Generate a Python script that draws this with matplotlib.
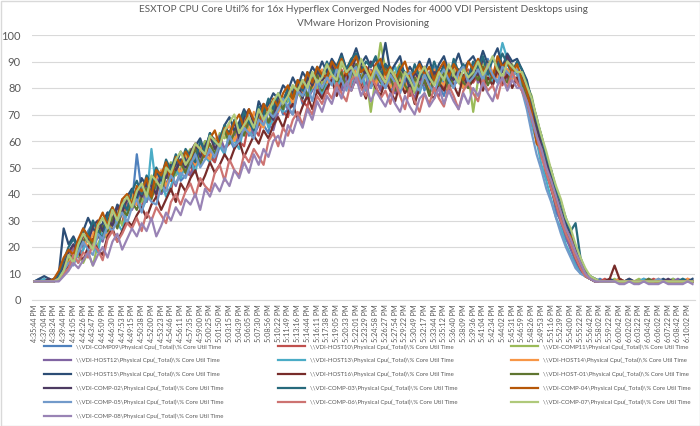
import matplotlib
matplotlib.use('Agg')
import matplotlib.pyplot as plt
from matplotlib.patches import Rectangle
import numpy as np

plt.rcParams['font.family'] = ['Lato', 'DejaVu Sans']

title = ('ESXTOP CPU Core Util% for 16x Hyperflex Converged Nodes for 4000 VDI Persistent Desktops using\n'
         'VMware Horizon Provisioning')

time_labels = [
    '4:35:44 PM', '4:37:04 PM', '4:38:24 PM', '4:39:44 PM', '4:41:05 PM', '4:42:26 PM', '4:43:47 PM',
    '4:45:09 PM', '4:46:30 PM', '4:47:53 PM', '4:49:15 PM', '4:50:38 PM', '4:52:00 PM', '4:53:23 PM',
    '4:54:46 PM', '4:56:11 PM', '4:57:35 PM', '4:59:00 PM', '5:00:25 PM', '5:01:50 PM', '5:03:15 PM',
    '5:04:39 PM', '5:06:05 PM', '5:07:30 PM', '5:08:56 PM', '5:10:22 PM', '5:11:49 PM', '5:13:16 PM',
    '5:14:44 PM', '5:16:11 PM', '5:17:38 PM', '5:19:05 PM', '5:20:33 PM', '5:22:01 PM', '5:23:29 PM',
    '5:24:58 PM', '5:26:27 PM', '5:27:54 PM', '5:29:22 PM', '5:30:49 PM', '5:32:17 PM', '5:33:44 PM',
    '5:35:12 PM', '5:36:40 PM', '5:38:09 PM', '5:39:36 PM', '5:41:04 PM', '5:42:34 PM', '5:44:02 PM',
    '5:45:31 PM', '5:46:59 PM', '5:48:26 PM', '5:49:53 PM', '5:51:16 PM', '5:52:39 PM', '5:54:00 PM',
    '5:55:22 PM', '5:56:42 PM', '5:58:02 PM', '5:59:22 PM', '6:00:42 PM', '6:02:02 PM', '6:03:22 PM',
    '6:04:42 PM', '6:06:02 PM', '6:07:22 PM', '6:08:42 PM', '6:10:02 PM',
]

hosts = ['VDI-COMP09', 'VDI-HOST10', 'VDI-COMP11', 'VDI-HOST12', 'VDI-HOST13', 'VDI-HOST14',
         'VDI-HOST15', 'VDI-HOST16', 'VDI-HOST-01', 'VDI-COMP-02', 'VDI-COMP-03', 'VDI-COMP-04',
         'VDI-COMP-05', 'VDI-COMP-06', 'VDI-COMP-07', 'VDI-COMP-08']

colors = ['#4F81BD', '#C0504D', '#9BBB59', '#8064A2', '#4BACC6', '#F79646',
          '#2C4D75', '#772C2A', '#5F7530', '#4D3B62', '#276A7C', '#B65708',
          '#729ACA', '#CD7371', '#AFC97A', '#9983B5']

# % core util, two samples per labelled timestamp (136 samples)
comp09 = [7, 8, 7, 7, 8, 9, 12, 18, 21, 17, 19, 26, 29, 24, 27, 33, 28, 31, 38, 34,
          36, 55, 41, 37, 44, 48, 40, 43, 49, 52, 45, 47, 55, 51, 53, 60, 56, 52, 58, 64,
          61, 57, 63, 69, 62, 64, 71, 66, 63, 73, 75, 70, 72, 79, 81, 74, 77, 84, 80, 76,
          83, 88, 81, 79, 86, 90, 84, 82, 87, 80, 84, 90, 86, 80, 78, 85, 83, 77, 82, 86,
          79, 84, 88, 81, 77, 83, 87, 85, 80, 84, 89, 83, 86, 91, 85, 82, 88, 90, 84, 87,
          82, 78, 70, 61, 57, 46, 44, 33, 30, 23, 20, 14, 11, 9, 8,
          7, 8, 7, 7, 7, 8, 7, 7, 7, 7, 8, 7, 7, 7, 7, 7, 8, 7, 7, 7, 7]
host10 = [7, 7, 7, 8, 7, 8, 11, 15, 20, 16, 24, 19, 22, 28, 25, 27, 34, 30, 29, 37,
          40, 36, 35, 43, 45, 39, 47, 42, 41, 50, 53, 48, 47, 55, 51, 58, 54, 52, 61, 57,
          59, 64, 60, 58, 67, 65, 62, 70, 68, 66, 74, 71, 69, 77, 80, 75, 73, 82, 79, 83,
          78, 85, 81, 87, 80, 84, 89, 83, 79, 86, 82, 80, 87, 84, 79, 85, 81, 77, 84, 80,
          86, 78, 82, 85, 80, 79, 86, 83, 81, 87, 82, 85, 80, 88, 84, 86, 81, 87, 85, 83,
          80, 77, 72, 63, 55, 51, 42, 37, 31, 27, 22, 17, 12, 9, 8,
          7, 7, 8, 7, 7, 7, 7, 8, 7, 7, 7, 7, 8, 7, 7, 7, 7, 7, 7, 8, 7]
comp11 = [7, 7, 7, 7, 7, 8, 10, 12, 15, 17, 14, 18, 13, 21, 25, 23, 29, 33, 28, 34,
          38, 42, 37, 40, 46, 43, 41, 48, 52, 47, 50, 54, 57, 52, 55, 60, 58, 56, 63, 61,
          64, 60, 67, 69, 64, 66, 72, 70, 67, 74, 77, 73, 75, 81, 78, 76, 83, 86, 80, 82,
          87, 84, 82, 89, 86, 83, 88, 90, 85, 71, 84, 97, 87, 82, 86, 89, 80, 83, 78, 86,
          83, 79, 86, 81, 84, 78, 87, 82, 80, 85, 71, 83, 89, 86, 82, 90, 87, 84, 89, 85,
          86, 81, 77, 68, 62, 54, 49, 41, 37, 29, 26, 20, 15, 11, 9,
          8, 7, 7, 7, 8, 7, 7, 7, 7, 8, 7, 7, 7, 7, 7, 7, 8, 7, 7, 7, 7]
host12 = [7, 7, 7, 7, 8, 9, 13, 16, 19, 22, 20, 23, 27, 24, 22, 29, 31, 28, 33, 37,
          34, 38, 41, 37, 42, 46, 40, 44, 47, 43, 49, 52, 47, 51, 56, 54, 53, 59, 62, 57,
          60, 63, 59, 65, 68, 62, 66, 70, 67, 64, 71, 75, 72, 70, 78, 80, 76, 79, 83, 77,
          80, 84, 86, 79, 83, 88, 82, 85, 81, 87, 84, 79, 86, 83, 78, 82, 85, 80, 76, 83,
          81, 86, 79, 77, 84, 87, 81, 83, 80, 85, 88, 82, 84, 87, 81, 86, 89, 83, 85, 82,
          79, 74, 69, 62, 56, 48, 42, 35, 29, 24, 19, 15, 11, 9, 8,
          7, 7, 7, 7, 7, 8, 7, 7, 7, 7, 7, 8, 7, 7, 7, 7, 7, 8, 7, 7, 7]
host13 = [7, 7, 8, 7, 7, 8, 10, 13, 17, 14, 19, 24, 21, 18, 27, 25, 31, 29, 26, 33,
          36, 40, 34, 38, 57, 42, 45, 39, 43, 49, 46, 51, 53, 48, 57, 54, 52, 60, 58, 55,
          63, 60, 57, 66, 64, 61, 69, 72, 65, 68, 74, 71, 77, 73, 79, 82, 76, 80, 84, 78,
          82, 86, 80, 84, 88, 81, 85, 87, 79, 84, 87, 82, 80, 85, 88, 83, 79, 84, 81, 78,
          84, 81, 87, 79, 85, 83, 80, 86, 88, 82, 85, 89, 83, 87, 82, 88, 97, 91, 86, 85,
          81, 75, 66, 60, 51, 45, 38, 31, 27, 21, 17, 13, 10, 9, 8,
          7, 7, 7, 7, 7, 7, 7, 7, 7, 7, 8, 7, 7, 7, 7, 7, 7, 7, 8, 7, 7]
host14 = [7, 7, 7, 7, 7, 9, 12, 15, 18, 20, 23, 20, 25, 29, 26, 24, 31, 35, 32, 38,
          41, 36, 39, 44, 40, 46, 49, 43, 47, 51, 48, 53, 56, 51, 58, 55, 53, 61, 59, 63,
          66, 60, 64, 68, 63, 71, 67, 65, 73, 75, 71, 76, 79, 74, 81, 78, 84, 80, 83, 87,
          82, 85, 89, 84, 87, 91, 85, 83, 88, 86, 81, 87, 84, 80, 85, 83, 79, 86, 82, 88,
          84, 80, 87, 83, 81, 86, 89, 84, 80, 86, 83, 88, 85, 90, 86, 84, 89, 87, 83, 88,
          85, 78, 74, 64, 60, 50, 45, 37, 32, 27, 22, 16, 13, 10, 8,
          7, 7, 7, 7, 7, 8, 7, 7, 7, 7, 7, 7, 7, 8, 7, 7, 7, 7, 7, 8, 7]
host15 = [7, 8, 9, 8, 7, 10, 27, 21, 24, 20, 26, 31, 27, 25, 29, 33, 30, 36, 34, 39,
          42, 38, 46, 43, 41, 49, 45, 52, 48, 51, 56, 53, 50, 58, 61, 55, 63, 60, 58, 66,
          69, 64, 67, 72, 68, 65, 75, 71, 74, 78, 76, 81, 79, 84, 80, 86, 83, 88, 85, 90,
          86, 91, 88, 93, 87, 90, 95, 89, 92, 88, 91, 87, 97, 86, 89, 92, 84, 88, 85, 90,
          86, 91, 84, 89, 92, 86, 88, 93, 87, 90, 92, 88, 94, 89, 91, 95, 88, 93, 90, 91,
          87, 83, 75, 69, 61, 54, 47, 40, 34, 29, 25, 19, 14, 10, 8,
          8, 7, 7, 8, 7, 7, 7, 8, 7, 7, 7, 7, 7, 7, 8, 7, 7, 7, 7, 7, 8]
host16 = [7, 7, 7, 7, 7, 8, 11, 13, 16, 18, 15, 20, 23, 19, 17, 24, 27, 22, 26, 30,
          28, 32, 35, 31, 36, 39, 34, 38, 42, 37, 44, 41, 46, 49, 43, 47, 52, 48, 51, 55,
          52, 57, 60, 54, 58, 62, 59, 64, 61, 66, 69, 65, 71, 74, 68, 73, 77, 72, 79, 76,
          80, 83, 77, 82, 86, 79, 84, 81, 76, 85, 80, 77, 83, 79, 75, 82, 78, 81, 74, 80,
          83, 78, 76, 82, 79, 84, 81, 77, 85, 80, 83, 86, 79, 84, 81, 87, 82, 85, 80, 84,
          81, 74, 69, 62, 55, 49, 42, 36, 31, 26, 21, 16, 12, 9, 8,
          7, 7, 7, 8, 13, 8, 7, 7, 7, 7, 7, 7, 7, 7, 7, 7, 7, 7, 7, 7, 7]
host01 = [7, 7, 7, 7, 7, 9, 12, 16, 17, 19, 22, 25, 20, 24, 28, 26, 31, 27, 34, 32,
          37, 34, 39, 42, 38, 44, 41, 47, 45, 49, 52, 48, 54, 57, 51, 56, 59, 55, 61, 64,
          59, 63, 66, 62, 68, 65, 70, 73, 67, 71, 75, 72, 78, 76, 80, 83, 77, 81, 85, 79,
          84, 88, 82, 86, 80, 85, 89, 83, 87, 81, 85, 82, 88, 84, 79, 86, 81, 78, 84, 80,
          83, 77, 85, 81, 86, 79, 84, 87, 82, 80, 86, 83, 88, 81, 85, 89, 84, 82, 87, 86,
          82, 76, 71, 63, 56, 50, 43, 36, 32, 25, 22, 16, 13, 9, 8,
          7, 7, 7, 7, 7, 7, 7, 7, 7, 7, 7, 8, 7, 7, 7, 7, 7, 7, 7, 7, 7]
comp02 = [7, 7, 7, 8, 7, 9, 13, 18, 21, 18, 25, 22, 28, 30, 26, 31, 28, 35, 33, 38,
          36, 42, 39, 45, 43, 40, 48, 46, 51, 49, 53, 50, 56, 59, 54, 58, 62, 57, 60, 65,
          63, 67, 61, 69, 72, 66, 70, 74, 71, 68, 77, 74, 80, 78, 82, 76, 84, 81, 87, 83,
          85, 89, 84, 91, 87, 86, 92, 88, 85, 90, 87, 84, 89, 86, 82, 88, 85, 80, 86, 83,
          88, 82, 86, 84, 89, 85, 83, 87, 84, 81, 88, 85, 91, 87, 84, 90, 86, 92, 88, 86,
          84, 79, 72, 66, 58, 52, 45, 39, 33, 27, 23, 18, 13, 10, 8,
          7, 7, 7, 7, 7, 7, 7, 7, 7, 7, 7, 7, 7, 7, 7, 8, 7, 7, 7, 7, 7]
comp03 = [7, 7, 7, 7, 8, 9, 15, 20, 23, 19, 27, 24, 30, 26, 23, 32, 35, 31, 37, 34,
          41, 45, 40, 47, 44, 50, 46, 53, 49, 55, 51, 57, 54, 52, 60, 56, 63, 59, 61, 66,
          62, 68, 65, 71, 67, 64, 73, 70, 76, 72, 78, 75, 80, 77, 83, 79, 86, 82, 88, 84,
          90, 85, 88, 92, 87, 91, 93, 86, 90, 88, 92, 85, 89, 87, 83, 88, 86, 82, 89, 84,
          87, 83, 90, 85, 88, 82, 91, 86, 89, 84, 90, 87, 92, 85, 91, 88, 93, 89, 86, 90,
          87, 82, 76, 68, 62, 54, 49, 42, 37, 31, 26, 29, 16, 11, 9,
          8, 7, 7, 7, 7, 7, 7, 7, 7, 7, 7, 7, 7, 7, 7, 7, 7, 7, 8, 7, 7]
comp04 = [7, 7, 7, 7, 8, 11, 16, 19, 17, 23, 27, 24, 22, 29, 33, 28, 35, 31, 38, 40,
          36, 43, 41, 46, 39, 49, 47, 52, 45, 54, 51, 56, 53, 59, 57, 54, 61, 64, 58, 65,
          62, 67, 70, 65, 72, 68, 66, 74, 71, 76, 73, 78, 81, 76, 83, 80, 86, 82, 88, 85,
          84, 90, 87, 91, 85, 89, 92, 86, 88, 84, 89, 91, 85, 88, 83, 87, 90, 84, 86, 89,
          85, 88, 83, 87, 90, 84, 89, 86, 83, 90, 87, 91, 86, 89, 84, 92, 88, 90, 86, 89,
          83, 79, 71, 59, 57, 48, 45, 37, 33, 26, 24, 17, 14, 10, 8,
          7, 7, 7, 7, 7, 7, 7, 7, 7, 7, 7, 7, 7, 7, 7, 7, 7, 7, 7, 7, 7]
comp05 = [7, 7, 7, 7, 7, 8, 11, 14, 13, 18, 22, 19, 17, 25, 23, 28, 26, 30, 33, 29,
          35, 38, 33, 40, 37, 36, 43, 41, 47, 44, 48, 46, 51, 55, 50, 53, 57, 54, 59, 56,
          62, 58, 60, 65, 63, 61, 68, 66, 71, 69, 72, 76, 73, 70, 79, 77, 81, 75, 83, 80,
          84, 81, 87, 83, 79, 86, 88, 82, 85, 80, 87, 83, 80, 85, 82, 78, 84, 86, 81, 79,
          85, 81, 78, 84, 87, 83, 80, 86, 88, 82, 84, 87, 83, 89, 85, 82, 88, 86, 84, 87,
          79, 72, 63, 55, 49, 42, 37, 31, 25, 20, 16, 12, 10, 9, 8,
          7, 7, 7, 7, 7, 7, 7, 7, 7, 7, 7, 7, 7, 8, 7, 7, 7, 7, 7, 7, 7]
comp06 = [7, 7, 7, 7, 7, 8, 10, 12, 17, 14, 18, 16, 21, 19, 15, 23, 26, 22, 25, 29,
          27, 31, 26, 33, 30, 35, 32, 29, 37, 40, 36, 41, 44, 39, 46, 43, 41, 48, 51, 45,
          53, 49, 47, 55, 52, 57, 54, 51, 60, 63, 58, 65, 62, 68, 71, 66, 73, 70, 77, 74,
          79, 76, 82, 78, 75, 83, 85, 80, 77, 84, 81, 76, 79, 74, 82, 77, 72, 80, 75, 71,
          78, 74, 80, 76, 73, 81, 77, 72, 79, 82, 78, 75, 83, 79, 81, 76, 84, 80, 86, 82,
          79, 75, 68, 62, 54, 48, 42, 36, 30, 25, 21, 16, 12, 9, 8,
          7, 7, 7, 7, 7, 7, 7, 7, 7, 7, 7, 7, 7, 7, 7, 7, 7, 7, 7, 7, 7]
comp07 = [7, 7, 7, 7, 7, 8, 11, 17, 14, 21, 25, 22, 19, 28, 31, 27, 34, 30, 36, 39,
          35, 41, 44, 39, 47, 45, 42, 50, 48, 53, 56, 51, 54, 59, 57, 55, 62, 60, 58, 64,
          67, 70, 63, 66, 69, 65, 72, 68, 71, 75, 78, 74, 77, 81, 79, 83, 80, 86, 82, 84,
          89, 85, 83, 90, 86, 88, 84, 91, 87, 83, 88, 85, 82, 87, 84, 80, 86, 83, 79, 85,
          88, 84, 81, 86, 83, 89, 85, 82, 87, 84, 86, 90, 85, 88, 92, 87, 84, 90, 88, 86,
          86, 81, 76, 69, 62, 56, 49, 43, 38, 31, 27, 21, 16, 12, 9,
          8, 7, 7, 7, 7, 7, 7, 7, 7, 7, 7, 7, 7, 7, 7, 7, 7, 7, 7, 7, 7]
comp08 = [7, 7, 7, 7, 7, 7, 9, 11, 14, 12, 15, 18, 13, 17, 20, 16, 22, 25, 19, 23,
          27, 24, 29, 26, 31, 24, 28, 33, 30, 35, 32, 38, 36, 40, 34, 42, 39, 44, 41, 46,
          43, 49, 46, 52, 48, 55, 51, 57, 54, 60, 62, 58, 66, 63, 69, 65, 72, 68, 75, 71,
          77, 74, 80, 76, 82, 79, 84, 77, 81, 75, 79, 76, 73, 78, 74, 71, 77, 73, 70, 76,
          78, 73, 76, 80, 74, 79, 75, 72, 78, 74, 80, 77, 82, 78, 75, 81, 84, 79, 83, 80,
          80, 75, 69, 62, 57, 50, 45, 39, 33, 27, 23, 18, 14, 10, 8,
          7, 7, 7, 7, 7, 6, 6, 7, 6, 6, 7, 6, 6, 6, 7, 6, 6, 6, 6, 7, 6]

series = [comp09, host10, comp11, host12, host13, host14, host15, host16,
          host01, comp02, comp03, comp04, comp05, comp06, comp07, comp08]

W, H = 700, 426
fig = plt.figure(figsize=(W / 100, H / 100), dpi=100)
ax = fig.add_axes([32 / W, 1 - 300 / H, 663 / W, 265 / H])

x = np.arange(len(comp09))
lines = []
for host, vals, c in zip(hosts, series, colors):
    ln, = ax.plot(x, vals, color=c, lw=1.6, solid_joinstyle='round',
                  label='\\\\' + host + '\\Physical Cpu(_Total)\\% Core Util Time')
    lines.append(ln)

ax.set_xlim(-0.5, len(x) - 0.5)
ax.set_ylim(0, 100)
ax.set_yticks(range(0, 101, 10))
ax.set_xticks(x[::2])
ax.set_xticklabels(time_labels, rotation=90, fontsize=5.2, color='#595959')
ax.tick_params(axis='x', length=0, pad=3)
ax.tick_params(axis='y', length=0, pad=8, labelsize=8, labelcolor='#595959')
ax.grid(axis='y', color='#D9D9D9', lw=0.8)
ax.set_axisbelow(True)
for s in ['top', 'left', 'right']:
    ax.spines[s].set_visible(False)
ax.spines['bottom'].set_color('#D9D9D9')

fig.text(363 / W, 1 - 5 / H, title, ha='center', va='top', fontsize=7.2,
         color='#595959', linespacing=1.65)

# legend in Excel row order (3 columns)
order = [0, 3, 6, 9, 12, 15, 1, 4, 7, 10, 13, 2, 5, 8, 11, 14]
fig.legend([lines[i] for i in order], [lines[i].get_label() for i in order],
           loc='upper left', bbox_to_anchor=(44 / W, 1 - 344 / H), ncol=3,
           frameon=False, fontsize=4.3, labelcolor='#595959', handlelength=4.6,
           handletextpad=0.8, columnspacing=9, labelspacing=1.4, borderpad=0,
           borderaxespad=0)

fig.add_artist(Rectangle((0.5 / W, 0.5 / H), 1 - 1 / W, 1 - 1 / H, transform=fig.transFigure,
                         fill=False, edgecolor='#D9D9D9', lw=1))

fig.savefig('out.png', dpi=100)
